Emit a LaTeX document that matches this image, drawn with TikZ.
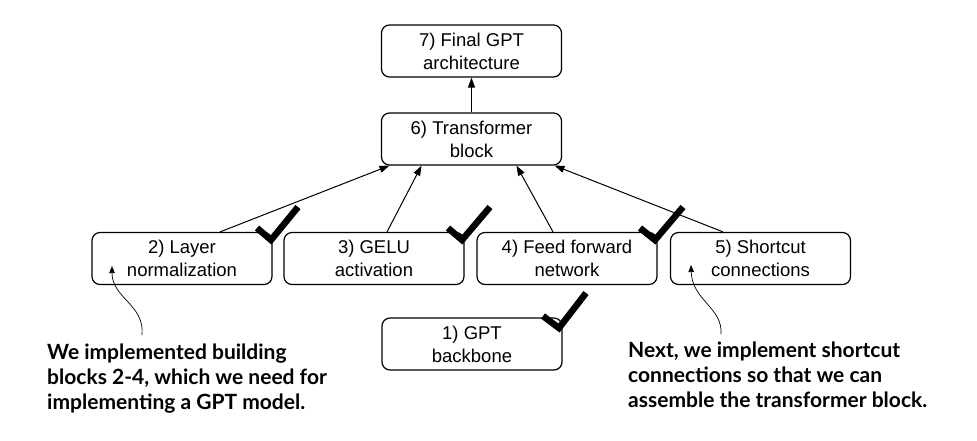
\documentclass[tikz,border=0pt]{standalone}
\usepackage{fontspec}
\setmainfont{Liberation Sans}
\newfontfamily\boxfont{Liberation Sans}
\newfontfamily\notefont[BoldFont={Lato Bold}]{Lato}
\usetikzlibrary{arrows.meta}
\begin{document}
\begin{tikzpicture}[x=1pt,y=-1pt,
  box/.style={draw, line width=1.2pt, rounded corners=8pt, minimum width=180pt, minimum height=52pt, align=center, inner sep=0pt, font=\boxfont\fontsize{18.5}{23}\selectfont},
  arr/.style={line width=1pt, -{Triangle[length=10pt,width=7pt]}},
  ann/.style={line width=0.7pt, -{Triangle[length=7pt,width=5.5pt]}},
  tick/.style={line width=6.5pt, line join=miter, line cap=butt},
  note/.style={align=left, anchor=north west, inner sep=0pt, font=\notefont\bfseries\fontsize{21}{25}\selectfont}]
\useasboundingbox (0,0) rectangle (977,440);
\node[box] (b7) at (471.5,51) {7) Final GPT\\architecture};
\node[box] (b6) at (471.5,139) {6) Transformer\\block};
\node[box] (b2) at (182,258.5) {2) Layer\\normalization};
\node[box] (b3) at (374,258.5) {3) GELU\\activation};
\node[box] (b4) at (567,258.5) {4) Feed forward\\network};
\node[box] (b5) at (760.5,258.5) {5) Shortcut\\connections};
\node[box] (b1) at (472,344) {1) GPT\\backbone};
\draw[arr] (b6.north) -- (b7.south);
\draw[arr] ([xshift=38pt]b2.north) -- ([xshift=-82pt]b6.south);
\draw[arr] ([xshift=13pt]b3.north) -- ([xshift=-50pt]b6.south);
\draw[arr] ([xshift=-14pt]b4.north) -- ([xshift=45pt]b6.south);
\draw[arr] ([xshift=-37.5pt]b5.north) -- ([xshift=83pt]b6.south);
% check marks
\draw[tick] (257,228) -- (271,240) -- (298,207);
\draw[tick] (448,228) -- (462,240) -- (490,207);
\draw[tick] (640,228) -- (655,240) -- (683,207);
\draw[tick] (543,316) -- (559,328) -- (586,293);
% notes
\node[note] (n1) at (47,344) {We implemented building\\blocks 2-4, which we need for\\implementing a GPT model.};
\node[note] (n2) at (628,342) {Next, we implement shortcut\\connections so that we can\\assemble the transformer block.};
\coordinate (t1) at (112,266);
\coordinate (t2) at (691,265);
\coordinate (s1) at (142,335);
\coordinate (s2) at (721,334);
\draw[ann] (s1) .. controls (145,305) and (112,298) .. (t1);
\draw[ann] (s2) .. controls (723,308) and (692,300) .. (t2);
\end{tikzpicture}
\end{document}
